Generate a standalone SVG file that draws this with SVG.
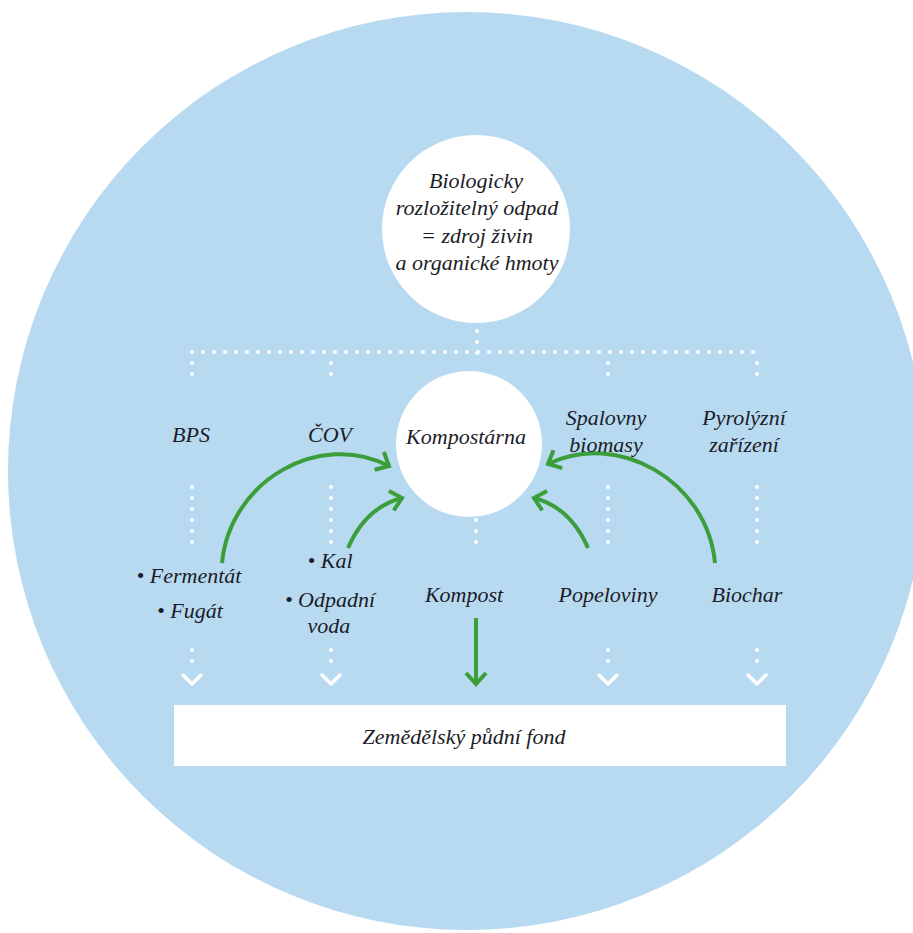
<svg xmlns="http://www.w3.org/2000/svg" width="913" height="933" viewBox="0 0 913 933">
<style>
  text { font-family: "Liberation Serif", "Times New Roman", serif; font-style: italic; font-size: 22px; fill: #1c1c28; text-anchor: middle; }
  .dots { fill: none; stroke: #ffffff; stroke-width: 4; stroke-linecap: round; stroke-dasharray: 0 11; }
  .chev { fill: none; stroke: #ffffff; stroke-width: 3.5; stroke-linecap: round; stroke-linejoin: round; }
  .green { fill: none; stroke: #3c9e3a; stroke-width: 4; stroke-linecap: butt; marker-end: url(#ah); }
</style>
<defs>
  <marker id="ah" markerUnits="userSpaceOnUse" markerWidth="30" markerHeight="30" refX="0" refY="0" viewBox="-16 -15 20 30" orient="auto">
    <path d="M-11,-10 L0,0 L-11,10" fill="none" stroke="#3c9e3a" stroke-width="4" stroke-linecap="butt" stroke-linejoin="miter"/>
  </marker>
</defs>
<rect width="913" height="933" fill="#ffffff"/>
<circle cx="467" cy="471" r="459" fill="#b7daf1"/>

<g id="connectors">
  <!-- top hierarchy dotted lines -->
  <path class="dots" d="M477,331 L477,363"/>
  <path class="dots" d="M192,352 L757,352"/>
  <path class="dots" d="M192,363 L192,375"/>
  <path class="dots" d="M331,363 L331,375"/>
  <path class="dots" d="M608,363 L608,375"/>
  <path class="dots" d="M757,363 L757,375"/>
  <!-- lower dotted lines -->
  <path class="dots" d="M192,487 L192,553"/>
  <path class="dots" d="M331,487 L331,553"/>
  <path class="dots" d="M476,520 L476,553"/>
  <path class="dots" d="M608,487 L608,553"/>
  <path class="dots" d="M757,487 L757,553"/>
  <!-- dotted arrows to the fund -->
  <path class="dots" d="M192,650 L192,662"/>
  <path class="chev" d="M183,675 L192,684 L201,675"/>
  <path class="dots" d="M331,650 L331,662"/>
  <path class="chev" d="M322,675 L331,684 L340,675"/>
  <path class="dots" d="M608,650 L608,662"/>
  <path class="chev" d="M599,675 L608,684 L617,675"/>
  <path class="dots" d="M757,650 L757,662"/>
  <path class="chev" d="M748,675 L757,684 L766,675"/>
  <!-- green arrows -->
  <path class="green" d="M222,563 C230,480 320,430 389,466"/>
  <path class="green" d="M348,548 Q366,507 402,498"/>
  <path class="green" d="M588,548 Q570,507 534,498"/>
  <path class="green" d="M715,563 C707,480 617,430 548,464"/>
  <path class="green" d="M476,618 L476,684"/>
</g>

<g id="node-biologicky">
  <circle cx="476" cy="229" r="94" fill="#ffffff"/>
  <text x="476" y="188">Biologicky</text>
  <text x="477" y="215">rozložitelný odpad</text>
  <text x="477" y="243">= zdroj živin</text>
  <text x="477" y="270">a organické hmoty</text>
</g>

<g id="node-kompostarna">
  <circle cx="469" cy="444" r="73" fill="#ffffff"/>
  <text x="466" y="444">Kompostárna</text>
</g>

<g id="node-bps"><text x="191" y="442">BPS</text></g>
<g id="node-cov"><text x="330" y="442">ČOV</text></g>
<g id="node-spalovny">
  <text x="606" y="425">Spalovny</text>
  <text x="606" y="452">biomasy</text>
</g>
<g id="node-pyrolyzni">
  <text x="744" y="425">Pyrolýzní</text>
  <text x="744" y="452">zařízení</text>
</g>

<g id="node-fermentat">
  <text x="189" y="583">• Fermentát</text>
  <text x="190" y="618">• Fugát</text>
</g>
<g id="node-kal">
  <text x="330" y="568">• Kal</text>
  <text x="330" y="607">• Odpadní</text>
  <text x="329" y="633">voda</text>
</g>
<g id="node-kompost"><text x="464" y="602">Kompost</text></g>
<g id="node-popeloviny"><text x="608" y="602">Popeloviny</text></g>
<g id="node-biochar"><text x="747" y="602">Biochar</text></g>

<g id="node-zpf">
  <rect x="174" y="705" width="612" height="61" fill="#ffffff"/>
  <text x="464" y="744">Zemědělský půdní fond</text>
</g>
</svg>
